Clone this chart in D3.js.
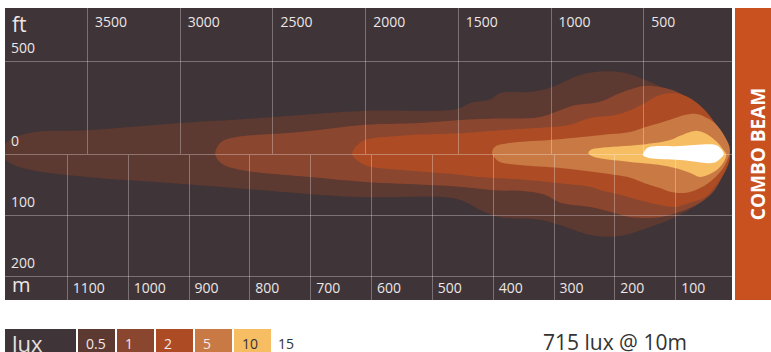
<!DOCTYPE html>
<html lang="en">
	<head>
		<meta charset="utf-8">
		<title>Combo beam pattern</title>
		<script type="text/javascript" src="https://cdn.jsdelivr.net/npm/d3@7"></script>
		<style type="text/css">
			body { margin: 0; background: #fff; }
			text { font-family: "Open Sans", sans-serif; }
		</style>
	</head>
	<body>
		<script type="text/javascript">

			//Axis ticks
			var ftTicks = [3500, 3000, 2500, 2000, 1500, 1000, 500];
			var mTicks = [1100, 1000, 900, 800, 700, 600, 500, 400, 300, 200, 100];
			var sideTicksM = [0, 100, 200];   //lateral, below the axis (m)
			var sideTicksFt = [500];          //lateral, above the axis (ft)

			//Legend
			var luxLevels = ["0.5", "1", "2", "5", "10"];
			var luxColors = ["#5c3931", "#8b462f", "#ad4c24", "#c97a44", "#f7bd63"];

			//Isolux contours: [distance m, lateral m (+ left / up)]
			var lux05 = [[1207,0],[1197,21],[1160,35],[1067,39],[914,51],[799,58],[610,71],[459,74],[437,84],[404,90],
				[388,100],[339,102],[306,109],[256,130],[215,136],[182,133],[150,122],[108,102],[76,77],[43,44],[23,18],[11,0],
				[18,-26],[35,-59],[59,-80],[100,-104],[141,-120],[182,-133],[207,-136],[240,-133],[289,-117],[322,-108],
				[388,-104],[421,-92],[445,-79],[470,-72],[610,-71],[700,-66],[799,-58],[914,-49],[1067,-38],[1160,-26],[1193,-15]];
			var lux1 = [[856,0],[848,18],[832,26],[717,36],[610,48],[519,51],[454,56],[404,58],[322,61],[289,72],[265,80],
				[224,86],[191,100],[150,112],[125,110],[92,100],[59,77],[35,48],[18,18],[10,0],
				[18,-26],[35,-59],[59,-80],[92,-95],[125,-104],[150,-105],[174,-104],[207,-95],[240,-87],[289,-80],
				[314,-67],[339,-62],[404,-59],[454,-54],[503,-51],[610,-46],[700,-38],[815,-26],[845,-16]];
			var lux2 = [[631,0],[621,16],[610,23],[552,30],[454,34],[404,38],[322,43],[273,48],[240,59],[199,64],[174,72],
				[150,84],[125,97],[100,100],[76,92],[51,72],[30,44],[15,15],[10,-3],
				[15,-23],[30,-48],[51,-71],[76,-80],[100,-87],[125,-84],[158,-76],[191,-67],[224,-59],[240,-54],
				[289,-48],[339,-43],[421,-38],[454,-34],[552,-26],[610,-18]];
			var lux5 = [[401,2],[396,12],[372,18],[306,23],[224,31],[174,36],[150,44],[125,51],[100,59],[84,64],[67,66],
				[51,61],[35,51],[18,28],[10,7],
				[18,-18],[35,-39],[59,-56],[84,-64],[108,-62],[125,-56],[150,-48],[174,-39],[224,-31],[289,-23],
				[355,-18],[388,-13],[396,-7]];
			var lux10 = [[243,2],[237,8],[224,10],[158,15],[108,23],[92,30],[67,38],[51,34],[35,23],[23,10],[16,-2],
				[26,-21],[39,-31],[59,-38],[76,-31],[100,-23],[125,-18],[174,-13],[224,-7],[238,-3]];
			var lux15 = [[153,-2],[148,8],[141,12],[92,13],[35,15],[26,10],[20,0],
				[26,-8],[33,-13],[43,-15],[92,-10],[141,-7],[148,-5]];

			var contours = [lux05, lux1, lux2, lux5, lux10, lux15];
			var contourColors = luxColors.concat(["#ffffff"]);

			//Width and height
			var w = 771;
			var h = 352;
			var panel = { left: 5, top: 8, right: 732, bottom: 300 };

			var xScale = d3.scaleLinear()
							.domain([0, 1200])
							.range([736, 6]);

			var yScale = d3.scaleLinear()
							.domain([-250, 250])
							.range([306.1, 1.9]);

			var ftToM = 0.3048;

			var svg = d3.select("body")
						.append("svg")
						.attr("width", w)
						.attr("height", h);

			svg.append("clipPath")
			   .attr("id", "clip")
			   .append("rect")
			   .attr("x", panel.left)
			   .attr("y", panel.top)
			   .attr("width", panel.right - panel.left)
			   .attr("height", panel.bottom - panel.top);

			//Background
			svg.append("rect")
			   .attr("x", panel.left)
			   .attr("y", panel.top)
			   .attr("width", panel.right - panel.left)
			   .attr("height", panel.bottom - panel.top)
			   .attr("fill", "#3f3438");

			//Beam
			var line = d3.line()
						.x(function(d) { return xScale(d[0]); })
						.y(function(d) { return yScale(d[1]); })
						.curve(d3.curveCatmullRomClosed.alpha(0.5));

			svg.append("g")
			   .attr("clip-path", "url(#clip)")
			   .selectAll("path")
			   .data(contours)
			   .enter()
			   .append("path")
			   .attr("d", line)
			   .attr("fill", function(d, i) { return contourColors[i]; });

			//Grid
			var grid = svg.append("g")
						.attr("stroke", "#ffffff")
						.attr("stroke-opacity", 0.3)
						.attr("stroke-width", 1);

			var hLines = [sideTicksFt[0] * ftToM].concat(sideTicksM.map(function(d) { return -d; }));
			grid.selectAll("line.h")
			    .data(hLines)
			    .enter()
			    .append("line")
			    .attr("x1", panel.left)
			    .attr("x2", panel.right)
			    .attr("y1", function(d) { return Math.round(yScale(d)) + 0.5; })
			    .attr("y2", function(d) { return Math.round(yScale(d)) + 0.5; });

			grid.selectAll("line.ft")
			    .data(ftTicks)
			    .enter()
			    .append("line")
			    .attr("x1", function(d) { return Math.round(xScale(d * ftToM)) + 0.5; })
			    .attr("x2", function(d) { return Math.round(xScale(d * ftToM)) + 0.5; })
			    .attr("y1", panel.top)
			    .attr("y2", Math.round(yScale(0)));

			grid.selectAll("line.m")
			    .data(mTicks)
			    .enter()
			    .append("line")
			    .attr("x1", function(d) { return Math.round(xScale(d)) + 0.5; })
			    .attr("x2", function(d) { return Math.round(xScale(d)) + 0.5; })
			    .attr("y1", Math.round(yScale(0)) + 1)
			    .attr("y2", panel.bottom);

			//Labels
			var labelColor = "#ece6e6";

			svg.selectAll("text.ft")
			   .data(ftTicks)
			   .enter()
			   .append("text")
			   .text(function(d) { return d; })
			   .attr("x", function(d) { return xScale(d * ftToM) + 8; })
			   .attr("y", 27)
			   .attr("font-size", "14px")
			   .attr("fill", labelColor);

			svg.selectAll("text.m")
			   .data(mTicks)
			   .enter()
			   .append("text")
			   .text(function(d) { return d; })
			   .attr("x", function(d) { return xScale(d) + 6; })
			   .attr("y", 293)
			   .attr("font-size", "14px")
			   .attr("fill", labelColor);

			svg.selectAll("text.side")
			   .data([{ t: sideTicksFt[0], v: sideTicksFt[0] * ftToM }].concat(sideTicksM.map(function(d) { return { t: d, v: -d }; })))
			   .enter()
			   .append("text")
			   .text(function(d) { return d.t; })
			   .attr("x", 11)
			   .attr("y", function(d) { return yScale(d.v) - 8; })
			   .attr("font-size", "14px")
			   .attr("fill", labelColor);

			svg.append("text")
			   .text("ft")
			   .attr("x", 12)
			   .attr("y", 32)
			   .attr("font-size", "21px")
			   .attr("fill", labelColor);

			svg.append("text")
			   .text("m")
			   .attr("x", 12)
			   .attr("y", 292)
			   .attr("font-size", "20px")
			   .attr("fill", labelColor);

			//Side banner
			svg.append("rect")
			   .attr("x", 735)
			   .attr("y", panel.top)
			   .attr("width", w - 735)
			   .attr("height", panel.bottom - panel.top)
			   .attr("fill", "#c9501f");

			svg.append("text")
			   .text("COMBO BEAM")
			   .attr("transform", "translate(765," + yScale(0) + ") rotate(-90)")
			   .attr("text-anchor", "middle")
			   .attr("font-size", "19px")
			   .attr("font-weight", "bold")
			   .attr("fill", "#ffffff");

			//Legend
			var legend = svg.append("g");

			legend.append("rect")
			      .attr("x", 5)
			      .attr("y", 329)
			      .attr("width", 71)
			      .attr("height", 30)
			      .attr("fill", "#3f3438");

			legend.append("text")
			      .text("lux")
			      .attr("x", 12)
			      .attr("y", 352)
			      .attr("font-size", "22px")
			      .attr("fill", "#e6e0e0");

			legend.selectAll("rect.box")
			      .data(luxLevels)
			      .enter()
			      .append("rect")
			      .attr("x", function(d, i) { return 78 + i * 39; })
			      .attr("y", 329)
			      .attr("width", 37)
			      .attr("height", 30)
			      .attr("fill", function(d, i) { return luxColors[i]; });

			legend.selectAll("text.box")
			      .data(luxLevels.concat(["15"]))
			      .enter()
			      .append("text")
			      .text(function(d) { return d; })
			      .attr("x", function(d, i) { return 86 + i * 39 + (i == 5 ? -3 : 0); })
			      .attr("y", 349)
			      .attr("font-size", "14px")
			      .attr("fill", function(d, i) { return i >= 4 ? "#333333" : "#f0eaea"; });

			svg.append("text")
			   .text("715 lux @ 10m")
			   .attr("x", 543)
			   .attr("y", 350)
			   .attr("font-size", "21px")
			   .attr("fill", "#333333");

		</script>
	</body>
</html>
